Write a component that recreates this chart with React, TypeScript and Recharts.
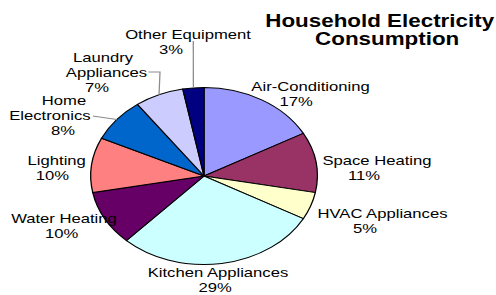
import React from 'react';
import { PieChart, Pie, Cell } from 'recharts';

// slice data, clockwise from 12 o'clock
const categories = [
  'Air-Conditioning',
  'Space Heating',
  'HVAC Appliances',
  'Kitchen Appliances',
  'Water Heating',
  'Lighting',
  'Home Electronics',
  'Laundry Appliances',
  'Other Equipment',
];
const shares = [17, 11, 5, 29, 10, 10, 8, 7, 3];
const sliceColors = ['#9999ff', '#993366', '#ffffcc', '#ccffff', '#660066', '#ff8080', '#0066cc', '#ccccff', '#000080'];
const wrappedLabels = ['Home Electronics', 'Laundry Appliances'];
const titleLines = ['Household Electricity', 'Consumption'];

const data = categories.map((name, i) => ({ name, value: shares[i] }));

// the source image is stretched horizontally, so the whole chart is drawn narrow and scaled
const STRETCH = 1.28;
const W = 388;
const H = 295;
const FONT = '"Liberation Sans", Arial, sans-serif';

// label placement (unscaled px): x per text line, first baseline, optional leader points
const labelLayout: { xs: number[]; y: number; leader?: number[][] }[] = [
  { xs: [242.6, 231.3], y: 91 },
  { xs: [294.5, 284.4], y: 165 },
  { xs: [298.8, 285.2], y: 218 },
  { xs: [170.3, 168], y: 277 },
  { xs: [50, 48.2], y: 223 },
  { xs: [44.3, 41], y: 165 },
  { xs: [50, 39, 49.2], y: 105, leader: [[72.5, 116]] },
  { xs: [80.5, 83.2, 75.8], y: 62.5, leader: [[116, 72], [125, 72]] },
  { xs: [146.9, 133.6], y: 39, leader: [[151, 41]] },
];

const RAD = Math.PI / 180;

const renderLabel = (props: any) => {
  const { cx, cy, midAngle, outerRadius, index } = props;
  const layout = labelLayout[index];
  const name = categories[index];
  const lines = wrappedLabels.includes(name) ? name.split(' ') : [name];
  lines.push(`${shares[index]}%`);
  const ex = cx + outerRadius * Math.cos(-midAngle * RAD);
  const ey = cy + outerRadius * Math.sin(-midAngle * RAD);
  return (
    <g key={`lbl-${index}`}>
      {layout.leader && (
        <polyline
          points={[...layout.leader, [ex, ey]].map((p) => p.join(',')).join(' ')}
          fill="none"
          stroke="#8c8c8c"
          strokeWidth={1}
        />
      )}
      {lines.map((t, j) => (
        <text
          key={j}
          x={layout.xs[j]}
          y={layout.y + j * 15}
          textAnchor="middle"
          fill="#000"
          fontFamily={FONT}
          fontSize={13}
        >
          {t}
        </text>
      ))}
    </g>
  );
};

export default function App() {
  return (
    <div
      style={{
        position: 'absolute',
        left: 0,
        top: 0,
        width: W,
        height: H,
        background: '#fff',
        transform: `scaleX(${STRETCH})`,
        transformOrigin: '0 0',
      }}
    >
      <PieChart width={W} height={H} margin={{ top: 0, right: 0, bottom: 0, left: 0 }}>
        <Pie
          data={data}
          dataKey="value"
          nameKey="name"
          cx={159.4}
          cy={176}
          outerRadius={88.5}
          startAngle={90}
          endAngle={-270}
          stroke="#000"
          strokeWidth={1}
          label={renderLabel}
          labelLine={false}
          isAnimationActive={false}
        >
          {data.map((d, i) => (
            <Cell key={d.name} fill={sliceColors[i]} />
          ))}
        </Pie>
      </PieChart>
      <svg width={W} height={H} style={{ position: 'absolute', left: 0, top: 0, pointerEvents: 'none' }}>
        {/* first line pinned to the right edge so it stays inside the frame */}
        <text x={386} y={27} textAnchor="end" fontFamily={FONT} fontWeight="bold" fontSize={17.5} fill="#000">
          {titleLines[0]}
        </text>
        <text x={302.5} y={45} textAnchor="middle" fontFamily={FONT} fontWeight="bold" fontSize={17.5} fill="#000">
          {titleLines[1]}
        </text>
      </svg>
    </div>
  );
}
